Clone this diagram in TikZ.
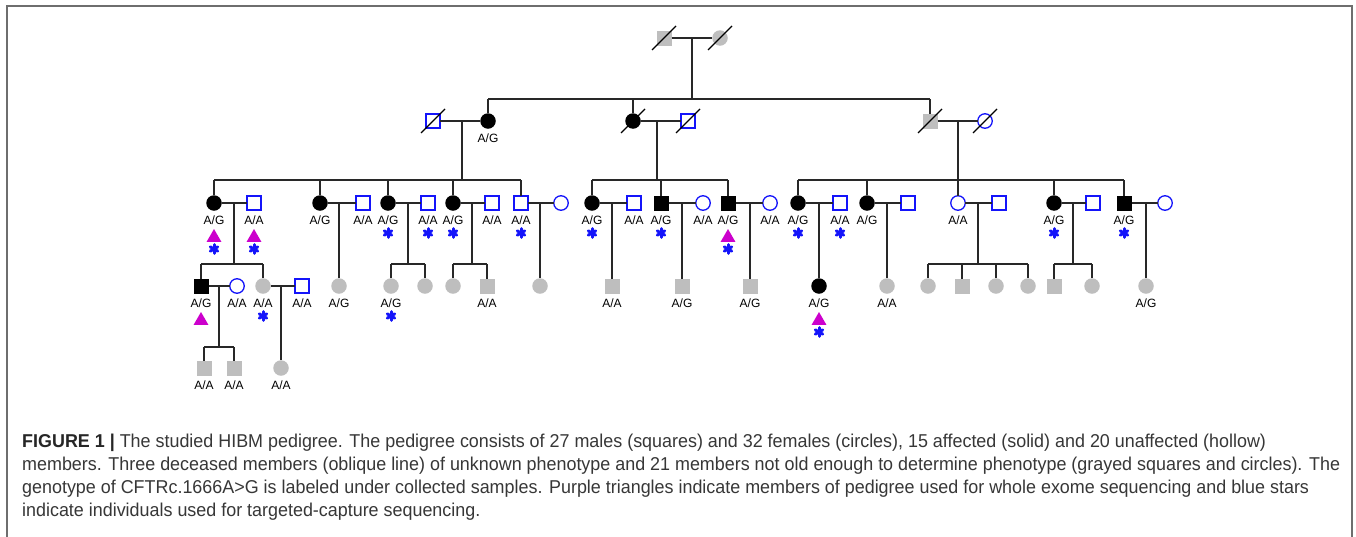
\documentclass[tikz,border=0pt]{standalone}
\usepackage{fontspec}
\usepackage{graphicx}
\setmainfont{Liberation Sans}
\newfontfamily\capfont{Liberation Sans}
\usetikzlibrary{shapes.geometric,calc}
\definecolor{pblue}{RGB}{20,20,250}
\definecolor{pgray}{RGB}{190,190,190}
\definecolor{pmag}{RGB}{204,0,204}
\definecolor{lncol}{RGB}{40,40,40}
\definecolor{capcol}{RGB}{55,55,55}
\definecolor{framecol}{RGB}{110,110,110}
\tikzset{
 sym/.style={inner sep=0pt, outer sep=0pt},
 maff/.style={sym, rectangle, fill=black, minimum size=15pt},
 faff/.style={sym, circle, fill=black, minimum size=15.5pt},
 mun/.style={sym, rectangle, draw=pblue, line width=1.3pt, fill=white, minimum size=14pt},
 fun/.style={sym, circle, draw=pblue, line width=1.3pt, fill=white, minimum size=14.5pt},
 mgray/.style={sym, rectangle, fill=pgray, minimum size=15pt},
 fgray/.style={sym, circle, fill=pgray, minimum size=15.5pt},
 ln/.style={draw=lncol, line width=1.2pt},
 slash/.style={draw=black, line width=1.1pt},
 gtxt/.style={inner sep=0pt, font=\fontsize{12}{12}\selectfont},
 tri/.style={sym, regular polygon, regular polygon sides=3, fill=pmag, minimum size=17pt},
 astk/.style={sym, circle, minimum size=15pt, path picture={
   \foreach \a in {90,30,150}{\draw[pblue, line width=3pt, line cap=round]
     ($(path picture bounding box.center)+(\a:4.3pt)$) -- ($(path picture bounding box.center)+(\a+180:4.3pt)$);}}},
 capline/.style={anchor=base west, inner sep=0pt, text=capcol},
}
\newcommand\dead[1]{\draw[slash] ([xshift=-12pt,yshift=-12pt]#1.center) -- ([xshift=12pt,yshift=12pt]#1.center);}
\newcommand\lab[2]{\node[gtxt] (#1-l) at ([yshift=-17.5pt]#1.center) {#2};}
\newcommand\tri[1]{\node[tri] (#1-t) at ([yshift=-34.5pt]#1.center) {};}
\newcommand\stA[1]{\node[astk] (#1-s) at ([yshift=-30pt]#1.center) {};}
\newcommand\stB[1]{\node[astk] (#1-s) at ([yshift=-46pt]#1.center) {};}
\newcommand\mar[2]{\draw[ln] (#1.east) -- (#2.west);}
\newcommand\single[2]{\draw[ln] (#2.north |- #1.east) -- (#2.north);}
\newcommand\capsz{\capfont\fontsize{18.6}{23}\selectfont}
\newcommand\captwo{members. Three deceased members (oblique line) of unknown phenotype and 21 members not old enough to determine phenotype (grayed squares and circles). The}
\newsavebox\capbox
\newdimen\capw
\AtBeginDocument{\sbox\capbox{\capsz\captwo}\global\capw=\wd\capbox}
\begin{document}
\begin{tikzpicture}[x=1pt,y=-1pt]
\pgfmathsetmacro\capk{1318/\capw}
\useasboundingbox (0,0) rectangle (1356,536);
\fill[white] (0,0) rectangle (1356,536);
\draw[framecol, line width=1.4pt] (7,545) -- (7,6) -- (1352,6) -- (1352,545);

% ---------- Generation I
\node[mgray] (I1) at (664,38) {};
\node[fgray] (I2) at (720,38) {};
% ---------- Generation II
\node[mun]  (II1) at (433,121) {};
\node[faff] (II2) at (488,121) {};
\node[faff] (II3) at (633,121) {};
\node[mun]  (II4) at (688,121) {};
\node[mgray](II5) at (930,121) {};
\node[fun]  (II6) at (985,121) {};
% ---------- Generation III
\node[faff] (III1) at (214,203) {};
\node[mun]  (III2) at (254,203) {};
\node[faff] (III3) at (320,203) {};
\node[mun]  (III4) at (363,203) {};
\node[faff] (III5) at (388,203) {};
\node[mun]  (III6) at (428,203) {};
\node[faff] (III7) at (453,203) {};
\node[mun]  (III8) at (492,203) {};
\node[mun]  (III9) at (521,203) {};
\node[fun]  (III10) at (561,203) {};
\node[faff] (III11) at (592,203) {};
\node[mun]  (III12) at (634,203) {};
\node[maff] (III13) at (661,203) {};
\node[fun]  (III14) at (703,203) {};
\node[maff] (III15) at (728,203) {};
\node[fun]  (III16) at (770,203) {};
\node[faff] (III17) at (798,203) {};
\node[mun]  (III18) at (840,203) {};
\node[faff] (III19) at (867,203) {};
\node[mun]  (III20) at (908,203) {};
\node[fun]  (III21) at (958,203) {};
\node[mun]  (III22) at (999,203) {};
\node[faff] (III23) at (1054,203) {};
\node[mun]  (III24) at (1093,203) {};
\node[maff] (III25) at (1124,203) {};
\node[fun]  (III26) at (1165,203) {};
% ---------- Generation IV
\node[maff] (IV1) at (201,286) {};
\node[fun]  (IV2) at (237,286) {};
\node[fgray](IV3) at (263,286) {};
\node[mun]  (IV4) at (302,286) {};
\node[fgray](IV5) at (339,286) {};
\node[fgray](IV6) at (391,286) {};
\node[fgray](IV7) at (425,286) {};
\node[fgray](IV8) at (453,286) {};
\node[mgray](IV9) at (487,286) {};
\node[fgray](IV10) at (540,286) {};
\node[mgray](IV11) at (612,286) {};
\node[mgray](IV12) at (682,286) {};
\node[mgray](IV13) at (750,286) {};
\node[faff] (IV14) at (819,286) {};
\node[fgray](IV15) at (887,286) {};
\node[fgray](IV16) at (928,286) {};
\node[mgray](IV17) at (962,286) {};
\node[fgray](IV18) at (996,286) {};
\node[fgray](IV19) at (1028,286) {};
\node[mgray](IV20) at (1054,286) {};
\node[fgray](IV21) at (1092,286) {};
\node[fgray](IV22) at (1146,286) {};
% ---------- Generation V
\node[mgray](V1) at (204,368) {};
\node[mgray](V2) at (234,368) {};
\node[fgray](V3) at (281,368) {};

% ---------- marriages
\mar{I1}{I2}
\mar{II1}{II2} \mar{II3}{II4} \mar{II5}{II6}
\mar{III1}{III2} \mar{III3}{III4} \mar{III5}{III6} \mar{III7}{III8} \mar{III9}{III10}
\mar{III11}{III12} \mar{III13}{III14} \mar{III15}{III16}
\mar{III17}{III18} \mar{III19}{III20} \mar{III21}{III22} \mar{III23}{III24} \mar{III25}{III26}
\mar{IV1}{IV2} \mar{IV3}{IV4}

% ---------- sibships
\coordinate (dI) at (692,38); \coordinate (sI) at (692,99);
\draw[ln] (dI) -- (sI);
\draw[ln] (II2.north |- sI) -- (II5.north |- sI);
\foreach \c in {II2,II3,II5} \draw[ln] (\c.north |- sI) -- (\c.north);
\coordinate (dA) at (462,121); \coordinate (sA) at (462,180);
\draw[ln] (dA) -- (sA);
\draw[ln] (III1.north |- sA) -- (III9.north |- sA);
\foreach \c in {III1,III3,III5,III7,III9} \draw[ln] (\c.north |- sA) -- (\c.north);
\coordinate (dB) at (657,121); \coordinate (sB) at (657,180);
\draw[ln] (dB) -- (sB);
\draw[ln] (III11.north |- sB) -- (III15.north |- sB);
\foreach \c in {III11,III13,III15} \draw[ln] (\c.north |- sB) -- (\c.north);
\coordinate (dC) at (958,121); \coordinate (sC) at (958,180);
\draw[ln] (dC) -- (sC);
\draw[ln] (III17.north |- sC) -- (III25.north |- sC);
\foreach \c in {III17,III19,III21,III23,III25} \draw[ln] (\c.north |- sC) -- (\c.north);
\coordinate (dA1) at (234,203); \coordinate (sA1) at (234,264);
\draw[ln] (dA1) -- (sA1);
\draw[ln] (IV1.north |- sA1) -- (IV3.north |- sA1);
\foreach \c in {IV1,IV3} \draw[ln] (\c.north |- sA1) -- (\c.north);
\single{III3}{IV5}
\coordinate (dA3) at (408,203); \coordinate (sA3) at (408,264);
\draw[ln] (dA3) -- (sA3);
\draw[ln] (IV6.north |- sA3) -- (IV7.north |- sA3);
\foreach \c in {IV6,IV7} \draw[ln] (\c.north |- sA3) -- (\c.north);
\coordinate (dA4) at (472,203); \coordinate (sA4) at (472,264);
\draw[ln] (dA4) -- (sA4);
\draw[ln] (IV8.north |- sA4) -- (IV9.north |- sA4);
\foreach \c in {IV8,IV9} \draw[ln] (\c.north |- sA4) -- (\c.north);
\single{III9}{IV10}
\single{III11}{IV11}
\single{III13}{IV12}
\single{III15}{IV13}
\single{III17}{IV14}
\single{III19}{IV15}
\coordinate (dC3) at (978,203); \coordinate (sC3) at (978,264);
\draw[ln] (dC3) -- (sC3);
\draw[ln] (IV16.north |- sC3) -- (IV19.north |- sC3);
\foreach \c in {IV16,IV17,IV18,IV19} \draw[ln] (\c.north |- sC3) -- (\c.north);
\coordinate (dC4) at (1073,203); \coordinate (sC4) at (1073,264);
\draw[ln] (dC4) -- (sC4);
\draw[ln] (IV20.north |- sC4) -- (IV21.north |- sC4);
\foreach \c in {IV20,IV21} \draw[ln] (\c.north |- sC4) -- (\c.north);
\single{III25}{IV22}
\coordinate (dD1) at (219,286); \coordinate (sD1) at (219,347);
\draw[ln] (dD1) -- (sD1);
\draw[ln] (V1.north |- sD1) -- (V2.north |- sD1);
\foreach \c in {V1,V2} \draw[ln] (\c.north |- sD1) -- (\c.north);
\single{IV3}{V3}

% ---------- deceased slashes
\dead{I1} \dead{I2} \dead{II1} \dead{II3} \dead{II4} \dead{II5} \dead{II6}

% ---------- genotype labels
\lab{II2}{A/G}
\lab{III1}{A/G} \lab{III2}{A/A} \lab{III3}{A/G} \lab{III4}{A/A}
\lab{III5}{A/G} \lab{III6}{A/A} \lab{III7}{A/G} \lab{III8}{A/A} \lab{III9}{A/A}
\lab{III11}{A/G} \lab{III12}{A/A} \lab{III13}{A/G} \lab{III14}{A/A} \lab{III15}{A/G} \lab{III16}{A/A}
\lab{III17}{A/G} \lab{III18}{A/A} \lab{III19}{A/G} \lab{III21}{A/A} \lab{III23}{A/G} \lab{III25}{A/G}
\lab{IV1}{A/G} \lab{IV2}{A/A} \lab{IV3}{A/A} \lab{IV4}{A/A} \lab{IV5}{A/G} \lab{IV6}{A/G}
\lab{IV9}{A/A} \lab{IV11}{A/A} \lab{IV12}{A/G} \lab{IV13}{A/G} \lab{IV14}{A/G} \lab{IV15}{A/A} \lab{IV22}{A/G}
\lab{V1}{A/A} \lab{V2}{A/A} \lab{V3}{A/A}

% ---------- whole exome (triangles) and targeted capture (stars)
\tri{III1} \stB{III1}
\tri{III2} \stB{III2}
\stA{III5} \stA{III6} \stA{III7} \stA{III9}
\stA{III11} \stA{III13} \tri{III15} \stB{III15}
\stA{III17} \stA{III18} \stA{III23} \stA{III25}
\tri{IV1} \stA{IV3} \stA{IV6}
\tri{IV14} \stB{IV14}

% ---------- caption
\node[capline] (cap1) at (22,447) {\scalebox{\capk}[1]{\capsz\textbf{\color{black!85}FIGURE 1 |} The studied HIBM pedigree. The pedigree consists of 27 males (squares) and 32 females (circles), 15 affected (solid) and 20 unaffected (hollow)}};
\node[capline] (cap2) at (22,470) {\scalebox{\capk}[1]{\capsz\captwo}};
\node[capline] (cap3) at (22,493) {\scalebox{\capk}[1]{\capsz genotype of CFTRc.1666A>G is labeled under collected samples. Purple triangles indicate members of pedigree used for whole exome sequencing and blue stars}};
\node[capline] (cap4) at (22,516) {\scalebox{\capk}[1]{\capsz indicate individuals used for targeted-capture sequencing.}};
\end{tikzpicture}
\end{document}
